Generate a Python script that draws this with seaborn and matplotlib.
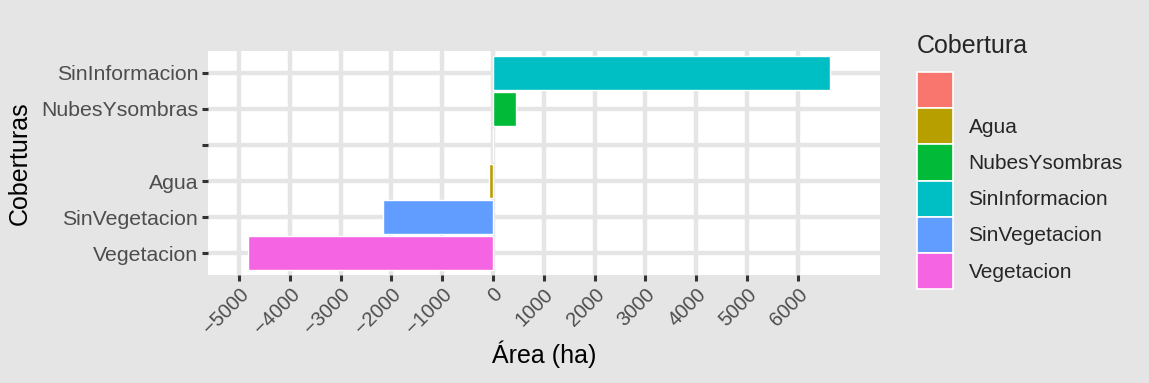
import numpy as np
import pandas as pd
import matplotlib
matplotlib.use("Agg")
import matplotlib.pyplot as plt
from matplotlib.patches import Patch
import seaborn as sns

# Data
coberturas = ["SinInformacion", "NubesYsombras", "", "Agua", "SinVegetacion", "Vegetacion"]
areas = [6640, 450, 0, -80, -2160, -4830]
legend_order = ["", "Agua", "NubesYsombras", "SinInformacion", "SinVegetacion", "Vegetacion"]
hue_colors = ["#F8766D", "#B79F00", "#00BA38", "#00BFC4", "#619CFF", "#F564E3"]
x_ticks = [-5000, -4000, -3000, -2000, -1000, 0, 1000, 2000, 3000, 4000, 5000, 6000]

palette = dict(zip(legend_order, hue_colors))
df = pd.DataFrame({"cobertura": coberturas, "area": areas})

sns.set_style("white")
plt.rcParams["font.family"] = ["Liberation Sans", "DejaVu Sans"]
bg = "#E5E5E5"

fig = plt.figure(figsize=(11.49, 3.83), dpi=100, facecolor=bg)
ax = fig.add_axes([208 / 1149, 1 - 275 / 383, (880 - 208) / 1149, (275 - 51) / 383])
ax.set_facecolor("white")

sns.barplot(data=df, x="area", y="cobertura", hue="cobertura", order=coberturas,
            hue_order=legend_order, palette=palette, dodge=False, width=0.94,
            saturation=1, orient="h", legend=False, ax=ax, zorder=3)

ax.set_xlim(-5610, 7620)
ax.set_ylim(len(coberturas) - 0.4, -0.6)
ax.set_xticks(x_ticks)
ax.set_xticklabels([str(v).replace("-", "\u2212") for v in x_ticks], rotation=45,
                   ha="right", rotation_mode="anchor")
ax.grid(True, color=bg, linewidth=3.2, zorder=0)
ax.set_axisbelow(True)
for s in ax.spines.values():
    s.set_visible(False)
ax.tick_params(axis="both", bottom=True, left=True, direction="out", colors="#333333",
               length=4, width=2.2, labelcolor="#4D4D4D", labelsize=14.5, pad=3)
ax.tick_params(axis="y", labelsize=15.3)
ax.set_xlabel("Área (ha)", fontsize=18, color="black", labelpad=2)
ax.set_ylabel("Coberturas", fontsize=18, color="black", labelpad=7)

handles = [Patch(facecolor=palette[c], edgecolor="white", linewidth=1.2) for c in legend_order]
leg = fig.legend(handles, legend_order, title="Cobertura", loc="upper left",
                 bbox_to_anchor=(917 / 1149, 1 - 34 / 383), frameon=False,
                 fontsize=15, title_fontsize=18, handlelength=1.72, handleheight=2.3,
                 labelspacing=0.0, handletextpad=0.75, borderaxespad=0, borderpad=0)
leg._legend_box.align = "left"
leg._legend_box.sep = 10

fig.savefig("out.png", dpi=100, facecolor=bg)
